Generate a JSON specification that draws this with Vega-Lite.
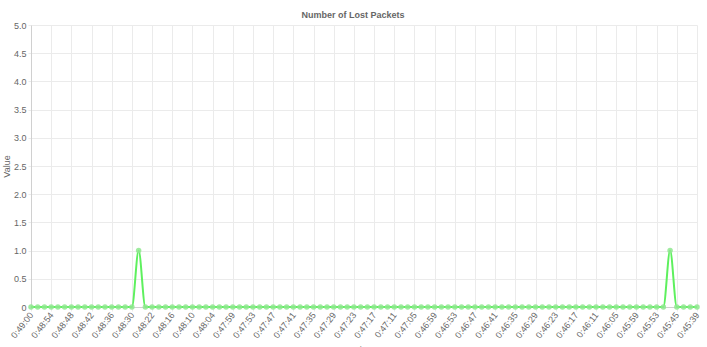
{
  "$schema": "https://vega.github.io/schema/vega-lite/v6.json",
  "width": 666,
  "height": 282,
  "autosize": {"type": "none"},
  "padding": {"left": 31, "top": 25, "right": 10, "bottom": 40},
  "background": "white",
  "title": {"text": "Number of Lost Packets", "fontSize": 9, "fontWeight": "bold", "color": "#666", "font": "Liberation Sans", "offset": 1, "dx": -11},
  "config": {"view": {"stroke": null}, "font": "Liberation Sans"},
  "data": {"values": [
    {"t":"0:49:00","v":0},{"t":"0:48:58","v":0},{"t":"0:48:56","v":0},{"t":"0:48:54","v":0},{"t":"0:48:52","v":0},
    {"t":"0:48:50","v":0},{"t":"0:48:48","v":0},{"t":"0:48:46","v":0},{"t":"0:48:44","v":0},{"t":"0:48:42","v":0},
    {"t":"0:48:40","v":0},{"t":"0:48:38","v":0},{"t":"0:48:36","v":0},{"t":"0:48:34","v":0},{"t":"0:48:32","v":0},
    {"t":"0:48:30","v":0},{"t":"0:48:27","v":1},{"t":"0:48:25","v":0},{"t":"0:48:22","v":0},{"t":"0:48:20","v":0},
    {"t":"0:48:18","v":0},{"t":"0:48:16","v":0},{"t":"0:48:14","v":0},{"t":"0:48:12","v":0},{"t":"0:48:10","v":0},
    {"t":"0:48:08","v":0},{"t":"0:48:06","v":0},{"t":"0:48:04","v":0},{"t":"0:48:02","v":0},{"t":"0:48:01","v":0},
    {"t":"0:47:59","v":0},{"t":"0:47:57","v":0},{"t":"0:47:55","v":0},{"t":"0:47:53","v":0},{"t":"0:47:51","v":0},
    {"t":"0:47:49","v":0},{"t":"0:47:47","v":0},{"t":"0:47:45","v":0},{"t":"0:47:43","v":0},{"t":"0:47:41","v":0},
    {"t":"0:47:39","v":0},{"t":"0:47:37","v":0},{"t":"0:47:35","v":0},{"t":"0:47:33","v":0},{"t":"0:47:31","v":0},
    {"t":"0:47:29","v":0},{"t":"0:47:27","v":0},{"t":"0:47:25","v":0},{"t":"0:47:23","v":0},{"t":"0:47:21","v":0},
    {"t":"0:47:19","v":0},{"t":"0:47:17","v":0},{"t":"0:47:15","v":0},{"t":"0:47:13","v":0},{"t":"0:47:11","v":0},
    {"t":"0:47:09","v":0},{"t":"0:47:07","v":0},{"t":"0:47:05","v":0},{"t":"0:47:03","v":0},{"t":"0:47:01","v":0},
    {"t":"0:46:59","v":0},{"t":"0:46:57","v":0},{"t":"0:46:55","v":0},{"t":"0:46:53","v":0},{"t":"0:46:51","v":0},
    {"t":"0:46:49","v":0},{"t":"0:46:47","v":0},{"t":"0:46:45","v":0},{"t":"0:46:43","v":0},{"t":"0:46:41","v":0},
    {"t":"0:46:39","v":0},{"t":"0:46:37","v":0},{"t":"0:46:35","v":0},{"t":"0:46:33","v":0},{"t":"0:46:31","v":0},
    {"t":"0:46:29","v":0},{"t":"0:46:27","v":0},{"t":"0:46:25","v":0},{"t":"0:46:23","v":0},{"t":"0:46:21","v":0},
    {"t":"0:46:19","v":0},{"t":"0:46:17","v":0},{"t":"0:46:15","v":0},{"t":"0:46:13","v":0},{"t":"0:46:11","v":0},
    {"t":"0:46:09","v":0},{"t":"0:46:07","v":0},{"t":"0:46:05","v":0},{"t":"0:46:03","v":0},{"t":"0:46:01","v":0},
    {"t":"0:45:59","v":0},{"t":"0:45:57","v":0},{"t":"0:45:55","v":0},{"t":"0:45:53","v":0},{"t":"0:45:50","v":0},
    {"t":"0:45:48","v":1},{"t":"0:45:45","v":0},{"t":"0:45:43","v":0},{"t":"0:45:41","v":0},{"t":"0:45:39","v":0}
  ]},
  "encoding": {
    "x": {
      "field": "t", "type": "ordinal", "sort": null,
      "scale": {"type": "point", "padding": 0},
      "axis": {
        "title": "Time", "titleFontSize": 9, "titleColor": "#666", "titleFontWeight": "normal", "titlePadding": 6,
        "values": ["0:49:00","0:48:54","0:48:48","0:48:42","0:48:36","0:48:30","0:48:22","0:48:16","0:48:10","0:48:04","0:47:59","0:47:53","0:47:47","0:47:41","0:47:35","0:47:29","0:47:23","0:47:17","0:47:11","0:47:05","0:46:59","0:46:53","0:46:47","0:46:41","0:46:35","0:46:29","0:46:23","0:46:17","0:46:11","0:46:05","0:45:59","0:45:53","0:45:45","0:45:39"],
        "labelAngle": -52, "labelAlign": "right", "labelBaseline": "middle",
        "labelFontSize": 9, "labelColor": "#666", "labelPadding": 2,
        "grid": true, "gridColor": "#ebebeb", "domainColor": "#d0d0d0",
        "tickColor": "#ebebeb", "tickSize": 4, "labelOverlap": false
      }
    },
    "y": {
      "field": "v", "type": "quantitative",
      "scale": {"domain": [0, 5], "nice": false},
      "axis": {
        "title": "Value", "titleFontSize": 9, "titleColor": "#666", "titleFontWeight": "normal", "titlePadding": 2,
        "values": [0, 0.5, 1, 1.5, 2, 2.5, 3, 3.5, 4, 4.5, 5],
        "labelExpr": "datum.value == 0 ? '0' : format(datum.value, '.1f')",
        "labelFontSize": 9, "labelColor": "#666", "labelPadding": 2,
        "grid": true, "gridColor": "#ebebeb", "domainColor": "#d0d0d0",
        "tickColor": "#ebebeb", "tickSize": 3
      }
    }
  },
  "layer": [
    {"mark": {"type": "line", "color": "#5ef05e", "strokeWidth": 2, "interpolate": "monotone"}},
    {"mark": {"type": "point", "filled": true, "size": 30, "color": "#8fe88f", "opacity": 0.85}}
  ]
}
